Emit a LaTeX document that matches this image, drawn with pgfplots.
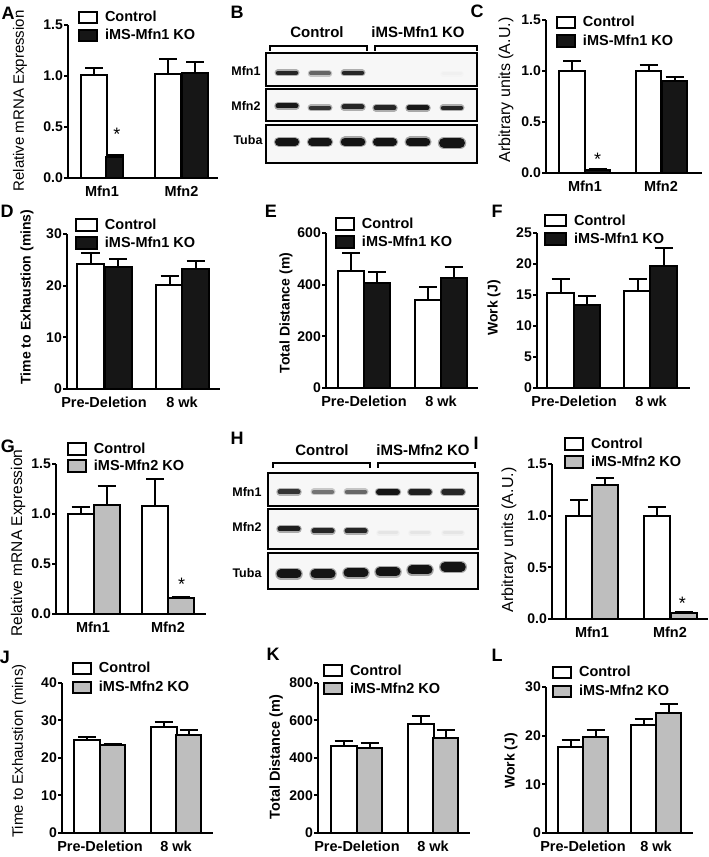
\documentclass[border=0pt]{standalone}
\usepackage{fontspec}
\setmainfont{Liberation Sans}
\usepackage{pgfplots}
\pgfplotsset{compat=1.18}
\definecolor{kblack}{RGB}{22,22,22}
\definecolor{kgray}{RGB}{190,190,190}
\newcommand\fL{\fontsize{18}{20}\selectfont\bfseries}
\newcommand\fT{\fontsize{14}{16}\selectfont\bfseries}
\newcommand\fX{\fontsize{14.5}{16}\selectfont\bfseries}
\newcommand\fG{\fontsize{14.5}{16}\selectfont\bfseries}
\newcommand\fS{\fontsize{18}{20}\selectfont}
\newcommand\fW{\fontsize{12.5}{14}\selectfont\bfseries}
\newcommand\fH{\fontsize{15}{17}\selectfont\bfseries}
\pgfplotsset{
  lgbox/.style={legend image code/.code={\draw[##1, line width=2pt] (0pt,-5.75pt) rectangle (#1,5.75pt);}},
  barax/.style={
    scale only axis, anchor=south west, clip=false,
    axis x line*=bottom, axis y line*=left,
    axis line style={line width=2pt, -},
    every outer x axis line/.append style={-},
    every outer y axis line/.append style={-},
    ymin=0, enlargelimits=false,
    ytick style={line width=2pt, black},
    xtick style={draw=none},
    tick align=outside, major tick length=4pt,
    yticklabel style={font=\fT, inner sep=1pt},
    xticklabel style={font=\fX, inner sep=2pt, yshift=-1.5pt},
    /pgf/number format/assume math mode=true,
    legend style={draw=none, fill=none, inner sep=0pt, outer sep=0pt, anchor=north west, font=\fG, row sep=4.5pt, nodes={inner sep=0pt}, /tikz/every odd column/.append style={column sep=7pt}},
    legend cell align=left,
    lgbox=18pt,
  },
  dec/.style={yticklabel style={/pgf/number format/fixed, /pgf/number format/fixed zerofill, /pgf/number format/precision=1}},
  barst/.style={ybar, bar width=#1, bar shift=0pt, draw=black, line width=2pt, forget plot,
    error bars/.cd, y dir=plus, y explicit, error bar style={line width=2pt, black},
    error mark options={rotate=90, line width=2pt, mark size=9pt, black}},
  ctl/.style={fill=white, barst=#1},
  ko/.style={fill=kblack, barst=#1},
  kg/.style={fill=kgray, barst=#1},
  blot/.style={scale only axis, anchor=south west, clip=true, y dir=reverse,
    xtick=\empty, ytick=\empty, axis line style={line width=2pt},
    axis background/.style={fill=black!3}},
}
\newcommand\band[5]{%
  \addplot[draw=#5, line width=#4+2.5pt, line cap=round, opacity=0.35] coordinates {(#1,#3) (#2,#3)};
  \addplot[draw=#5, line width=#4, line cap=round] coordinates {(#1,#3) (#2,#3)};}
\begin{document}
\begin{tikzpicture}[x=1pt,y=1pt]
\useasboundingbox (0,0) rectangle (709,857);

% ---------------- A
\begin{axis}[barax, dec, at={(68pt,679pt)}, width=150pt, height=153pt, xmin=68, xmax=218, ymax=1.5,
  ytick={0,0.5,1,1.5}, xtick={102,181.5}, xticklabels={Mfn1,Mfn2},
  legend style={at={(0.0667,1.0935)}, row sep=4.5pt}]
\addplot[ctl=26] coordinates {(94,1.01) +- (0,0.07) (168,1.02) +- (0,0.15)};
\addplot[ko=17] coordinates {(114.5,0.21) +- (0,0.02)};
\addplot[ko=26] coordinates {(195,1.03) +- (0,0.11)};
\node[font=\fS, anchor=north, inner sep=0pt] at (axis cs:117,0.49) {*};
\addlegendimage{fill=white, draw=black}
\addlegendimage{fill=kblack, draw=black}
\legend{Control, iMS-Mfn1 KO}
\end{axis}

% ---------------- C
\begin{axis}[barax, dec, at={(546pt,684pt)}, width=156pt, height=153pt, xmin=546, xmax=702, ymax=1.5,
  ytick={0,0.5,1,1.5}, xtick={585,661}, xticklabels={Mfn1,Mfn2},
  legend style={at={(0.064,1.028)}, row sep=5pt}]
\addplot[ctl=25.5] coordinates {(572,1.00) +- (0,0.10) (648.5,1.00) +- (0,0.06)};
\addplot[ko=25.5] coordinates {(597.5,0.03) +- (0,0.012) (674.5,0.90) +- (0,0.04)};
\node[font=\fS, anchor=north, inner sep=0pt] at (axis cs:597.7,0.2) {*};
\addlegendimage{fill=white, draw=black}
\addlegendimage{fill=kblack, draw=black}
\legend{Control, iMS-Mfn1 KO}
\end{axis}

% ---------------- D
\begin{axis}[barax, lgbox=21pt, at={(67pt,468pt)}, width=153pt, height=155pt, xmin=67, xmax=220, ymax=30,
  ytick={0,10,20,30}, xtick={104,182}, xticklabels={Pre-Deletion,8 wk},
  legend style={at={(0.052,1.101)}, row sep=4.5pt}]
\addplot[ctl=27] coordinates {(90.5,24.2) +- (0,2.2) (169.5,20.2) +- (0,1.7)};
\addplot[ko=27] coordinates {(118,23.7) +- (0,1.5) (195.5,23.3) +- (0,1.5)};
\addlegendimage{fill=white, draw=black}
\addlegendimage{fill=kblack, draw=black}
\legend{Control, iMS-Mfn1 KO}
\end{axis}

% ---------------- E
\begin{axis}[barax, at={(326pt,469pt)}, width=152pt, height=155pt, xmin=326, xmax=478, ymax=600,
  ytick={0,200,400,600}, xtick={364,441}, xticklabels={Pre-Deletion,8 wk},
  legend style={at={(0.059,1.101)}, row sep=4.5pt}]
\addplot[ctl=26] coordinates {(351,454) +- (0,70) (428,339) +- (0,52)};
\addplot[ko=26] coordinates {(377,408) +- (0,40) (453.5,426) +- (0,43)};
\addlegendimage{fill=white, draw=black}
\addlegendimage{fill=kblack, draw=black}
\legend{Control, iMS-Mfn1 KO}
\end{axis}

% ---------------- F
\begin{axis}[barax, lgbox=21pt, at={(537pt,469pt)}, width=153pt, height=155pt, xmin=537, xmax=690, ymax=25,
  ytick={0,5,10,15,20,25}, xtick={574,651}, xticklabels={Pre-Deletion,8 wk},
  legend style={at={(0.046,1.123)}, row sep=5pt}]
\addplot[ctl=26.5] coordinates {(560.5,15.3) +- (0,2.3) (637.5,15.7) +- (0,1.9)};
\addplot[ko=26.5] coordinates {(587,13.4) +- (0,1.4) (663.5,19.7) +- (0,2.9)};
\addlegendimage{fill=white, draw=black}
\addlegendimage{fill=kblack, draw=black}
\legend{Control, iMS-Mfn1 KO}
\end{axis}

% ---------------- G
\begin{axis}[barax, dec, at={(56pt,243pt)}, width=150pt, height=150pt, xmin=56, xmax=206, ymax=1.5,
  ytick={0,0.5,1,1.5}, xtick={93,168}, xticklabels={Mfn1,Mfn2},
  legend style={at={(0.073,1.145)}, row sep=3.5pt}]
\addplot[ctl=26] coordinates {(80.5,1.00) +- (0,0.07) (155,1.08) +- (0,0.27)};
\addplot[kg=26] coordinates {(106.5,1.09) +- (0,0.19) (180.5,0.16) +- (0,0.006)};
\node[font=\fS, anchor=north, inner sep=0pt] at (axis cs:181.7,0.357) {*};
\addlegendimage{fill=white, draw=black}
\addlegendimage{fill=kgray, draw=black}
\legend{Control, iMS-Mfn2 KO}
\end{axis}

% ---------------- I
\begin{axis}[barax, dec, at={(552pt,238pt)}, width=156pt, height=155pt, xmin=552, xmax=708, ymax=1.5,
  ytick={0,0.5,1,1.5}, xtick={592,670}, xticklabels={Mfn1,Mfn2},
  legend style={at={(0.077,1.172)}, row sep=4.5pt}]
\addplot[ctl=26] coordinates {(579,1.00) +- (0,0.15) (656.5,1.00) +- (0,0.08)};
\addplot[kg=26] coordinates {(605,1.30) +- (0,0.06) (683.5,0.06) +- (0,0.004)};
\node[font=\fS, anchor=north, inner sep=0pt] at (axis cs:682.3,0.216) {*};
\addlegendimage{fill=white, draw=black}
\addlegendimage{fill=kgray, draw=black}
\legend{Control, iMS-Mfn2 KO}
\end{axis}

% ---------------- J
\begin{axis}[barax, at={(62pt,24pt)}, width=151pt, height=150pt, xmin=62, xmax=213, ymax=40,
  ytick={0,10,20,30,40}, xtick={100,176}, xticklabels={Pre-Deletion,8 wk},
  legend style={at={(0.066,1.142)}, row sep=5.5pt}]
\addplot[ctl=26] coordinates {(87,24.8) +- (0,0.9) (163.5,28.2) +- (0,1.4)};
\addplot[kg=25] coordinates {(112.5,23.4) +- (0,0.3) (188.5,26.1) +- (0,1.4)};
\addlegendimage{fill=white, draw=black}
\addlegendimage{fill=kgray, draw=black}
\legend{Control, iMS-Mfn2 KO}
\end{axis}

% ---------------- K
\begin{axis}[barax, at={(318pt,24pt)}, width=152pt, height=150pt, xmin=318, xmax=470, ymax=800,
  ytick={0,200,400,600,800}, xtick={357,433}, xticklabels={Pre-Deletion,8 wk},
  legend style={at={(0.033,1.127)}, row sep=4.5pt}]
\addplot[ctl=26] coordinates {(343.5,464) +- (0,28) (420.5,580) +- (0,44)};
\addplot[kg=25] coordinates {(369.5,452) +- (0,30) (445.5,508) +- (0,41)};
\addlegendimage{fill=white, draw=black}
\addlegendimage{fill=kgray, draw=black}
\legend{Control, iMS-Mfn2 KO}
\end{axis}

% ---------------- L
\begin{axis}[barax, at={(546pt,24pt)}, width=147pt, height=146pt, xmin=546, xmax=693, ymax=30,
  ytick={0,10,20,30}, xtick={583,656}, xticklabels={Pre-Deletion,8 wk},
  legend style={at={(0.041,1.146)}, row sep=5.5pt}]
\addplot[ctl=25] coordinates {(570.5,17.7) +- (0,1.4) (643.5,22.1) +- (0,1.4)};
\addplot[kg=25] coordinates {(595.5,19.8) +- (0,1.3) (668.5,24.7) +- (0,1.8)};
\addlegendimage{fill=white, draw=black}
\addlegendimage{fill=kgray, draw=black}
\legend{Control, iMS-Mfn2 KO}
\end{axis}

% ---------------- B blots
\begin{axis}[blot, at={(266pt,771pt)}, width=211pt, height=33pt, xmin=266, xmax=477, ymin=53, ymax=86]
\band{278}{296}{73}{4.5pt}{black!85}
\band{311}{329}{73.5}{4pt}{black!60}
\band{344}{362}{73}{4.5pt}{black!85}
\band{443}{461}{74}{3pt}{black!6}
\end{axis}
\begin{axis}[blot, at={(266pt,736pt)}, width=211pt, height=32pt, xmin=266, xmax=477, ymin=89, ymax=121]
\band{278}{296}{106}{5pt}{black!90}
\band{311}{329}{108}{4.5pt}{black!80}
\band{344}{362}{107}{5pt}{black!85}
\band{376}{394}{108}{5pt}{black!85}
\band{409}{427}{108}{5pt}{black!90}
\band{443}{461}{108}{4.5pt}{black!85}
\end{axis}
\begin{axis}[blot, at={(266pt,694pt)}, width=211pt, height=38pt, xmin=266, xmax=477, ymin=125, ymax=163]
\band{279}{295}{142}{8pt}{black!92}
\band{312}{328}{142}{8pt}{black!92}
\band{345}{361}{142}{8.5pt}{black!92}
\band{377}{393}{142}{8pt}{black!92}
\band{410}{426}{142}{8.5pt}{black!92}
\band{444}{460}{143}{10pt}{black!92}
\end{axis}

% ---------------- H blots
\begin{axis}[blot, at={(268pt,351pt)}, width=210pt, height=33pt, xmin=268, xmax=478, ymin=473, ymax=506]
\band{280}{298}{492}{5pt}{black!80}
\band{314}{332}{492}{4.5pt}{black!55}
\band{347}{365}{492}{4.5pt}{black!60}
\band{379}{397}{492}{6pt}{black!92}
\band{411}{429}{492}{5.5pt}{black!88}
\band{444}{462}{492}{5.5pt}{black!85}
\end{axis}
\begin{axis}[blot, at={(268pt,308pt)}, width=210pt, height=40pt, xmin=268, xmax=478, ymin=509, ymax=549]
\band{280}{298}{529}{5pt}{black!88}
\band{314}{332}{531}{5pt}{black!85}
\band{347}{365}{531}{5pt}{black!85}
\band{379}{397}{533}{3pt}{black!10}
\band{411}{429}{533}{3pt}{black!10}
\band{444}{462}{533}{3pt}{black!10}
\end{axis}
\begin{axis}[blot, at={(268pt,268pt)}, width=210pt, height=36pt, xmin=268, xmax=478, ymin=553, ymax=589]
\band{281}{297}{574}{9pt}{black!92}
\band{315}{331}{574}{9pt}{black!92}
\band{348}{364}{573}{9pt}{black!92}
\band{380}{396}{572}{9pt}{black!92}
\band{412}{428}{570}{9pt}{black!92}
\band{445}{461}{567}{9.5pt}{black!92}
\end{axis}

% brackets
\draw[line width=1.5pt] (270,806)--(270,811)--(367,811)--(367,806);
\draw[line width=1.5pt] (375,806)--(375,811)--(477,811)--(477,806);
\draw[line width=1.5pt] (273,389)--(273,394)--(370,394)--(370,389);
\draw[line width=1.5pt] (378,389)--(378,394)--(475,394)--(475,389);

% blot texts
\node[font=\fH] at (317,825) {Control};
\node[font=\fH] at (418,825) {iMS-Mfn1 KO};
\node[font=\fW] at (246,786) {Mfn1};
\node[font=\fW] at (246,751) {Mfn2};
\node[font=\fW] at (248,717) {Tuba};
\node[font=\fH] at (322,407) {Control};
\node[font=\fH] at (423,407) {iMS-Mfn2 KO};
\node[font=\fW] at (247,365) {Mfn1};
\node[font=\fW] at (247,330) {Mfn2};
\node[font=\fW] at (247,284) {Tuba};

% panel letters
\node[font=\fL] at (8,844) {A};
\node[font=\fL] at (237,845) {B};
\node[font=\fL] at (477,846) {C};
\node[font=\fL] at (7,646) {D};
\node[font=\fL] at (271,646) {E};
\node[font=\fL] at (497,646) {F};
\node[font=\fL] at (8,411) {G};
\node[font=\fL] at (237,419) {H};
\node[font=\fL] at (476,414) {I};
\node[font=\fL] at (5,200) {J};
\node[font=\fL] at (273,203) {K};
\node[font=\fL] at (497,202) {L};

% y labels
\node[rotate=90, font=\fontsize{15}{17}\selectfont] at (20,756) {Relative mRNA Expression};
\node[rotate=90, font=\fontsize{16}{18}\selectfont] at (506,767) {Arbitrary units (A.U.)};
\node[rotate=90, font=\fontsize{14}{16}\selectfont\bfseries] at (27,560) {Time to Exhaustion (mins)};
\node[rotate=90, font=\fontsize{14}{16}\selectfont\bfseries] at (286,544) {Total Distance (m)};
\node[rotate=90, font=\fontsize{14}{16}\selectfont\bfseries] at (494,549) {Work (J)};
\node[rotate=90, font=\fontsize{15.5}{17}\selectfont] at (18,314) {Relative mRNA Expression};
\node[rotate=90, font=\fontsize{16}{18}\selectfont] at (509,317) {Arbitrary units (A.U.)};
\node[rotate=90, font=\fontsize{15}{17}\selectfont] at (19,106) {Time to Exhaustion (mins)};
\node[rotate=90, font=\fontsize{14.5}{16}\selectfont\bfseries] at (276,100) {Total Distance (m)};
\node[rotate=90, font=\fontsize{14}{16}\selectfont\bfseries] at (511,96) {Work (J)};
\end{tikzpicture}
\end{document}
